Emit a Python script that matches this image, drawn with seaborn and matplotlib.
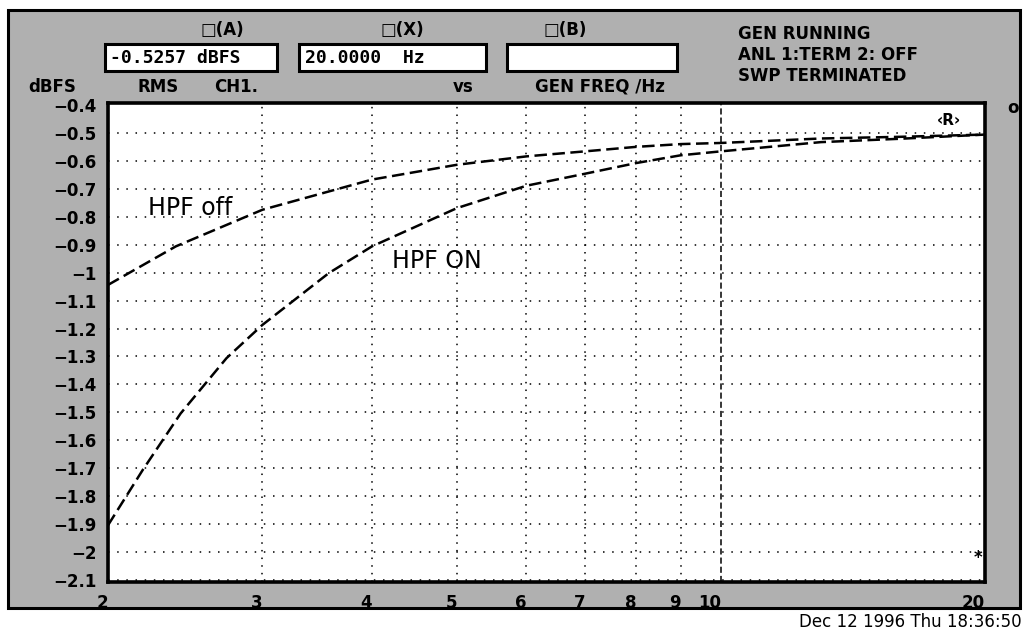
import pandas as pd
import matplotlib
matplotlib.use("Agg")
import matplotlib.pyplot as plt
from matplotlib.patches import Rectangle
import seaborn as sns

freq_off = [2, 2.39, 3, 4, 5, 6, 7, 8, 9, 10, 13, 16, 20]
level_off = [-1.044, -0.906, -0.775, -0.667, -0.614, -0.584, -0.566, -0.55, -0.54, -0.536, -0.52, -0.514, -0.506]

freq_on = [2, 2.19, 2.42, 2.73, 3, 3.57, 4, 5, 6, 7, 8, 9, 10, 13, 16, 20]
level_on = [-1.904, -1.707, -1.504, -1.306, -1.187, -1.002, -0.906, -0.769, -0.689, -0.646, -0.608, -0.58, -0.566, -0.533, -0.521, -0.506]

y_ticks = [-0.4, -0.5, -0.6, -0.7, -0.8, -0.9, -1, -1.1, -1.2, -1.3, -1.4, -1.5,
           -1.6, -1.7, -1.8, -1.9, -2, -2.1]
y_labels = ["\u22120.4", "\u22120.5", "\u22120.6", "\u22120.7", "\u22120.8", "\u22120.9", "\u22121",
            "\u22121.1", "\u22121.2", "\u22121.3", "\u22121.4", "\u22121.5", "\u22121.6", "\u22121.7",
            "\u22121.8", "\u22121.9", "\u22122", "\u22122.1"]
x_ticks = [2, 3, 4, 5, 6, 7, 8, 9, 10, 20]
x_labels = ["2", "3", "4", "5", "6", "7", "8", "9", "10", "20"]

df = pd.concat([
    pd.DataFrame({"freq": freq_off, "level": level_off, "setting": "HPF off"}),
    pd.DataFrame({"freq": freq_on, "level": level_on, "setting": "HPF ON"}),
])

sns.set_style("white")
plt.rcParams["font.family"] = ["DejaVu Sans"]
plt.rcParams["text.color"] = "black"
plt.rcParams["xtick.color"] = "black"
plt.rcParams["ytick.color"] = "black"

W, H = 1026, 635
fig = plt.figure(figsize=(W / 100, H / 100), dpi=100)
fig.patch.set_facecolor("white")


def fx(px):
    return px / W


def fy(py):
    return 1 - py / H


# halftone grey screen background
fig.add_artist(Rectangle((fx(8), fy(608)), fx(1012), (608 - 10) / H,
                         facecolor="#b0b0b0", edgecolor="black", lw=2.2, zorder=0))

ax = fig.add_axes([fx(108), fy(582), fx(985 - 108), (582 - 103) / H])
ax.set_facecolor("white")

sns.lineplot(data=df, x="freq", y="level", hue="setting", style="setting",
             palette={"HPF off": "black", "HPF ON": "black"},
             dashes={"HPF off": (5, 2.2), "HPF ON": (5, 2.2)},
             linewidth=1.8, legend=False, ax=ax, zorder=3)

ax.set_xscale("log")
ax.set_xlim(2, 20)
ax.set_ylim(-2.107, -0.393)
ax.set_xticks(x_ticks)
ax.set_xticklabels(x_labels, fontsize=12, fontweight="bold", ha="right")
ax.xaxis.set_minor_locator(matplotlib.ticker.NullLocator())
ax.set_yticks(y_ticks)
ax.set_yticklabels(y_labels, fontsize=12, fontweight="bold")
ax.tick_params(axis="y", length=0, pad=8)
ax.tick_params(axis="x", length=0, pad=9)
ax.set_xlabel("")
ax.set_ylabel("")
for s in ax.spines.values():
    s.set_linewidth(2.6)
    s.set_color("black")

for v in y_ticks[1:]:
    ax.axhline(v, color="black", lw=1.1, ls=(0, (1, 5)), zorder=1)
for v in x_ticks[1:-1]:
    ax.axvline(v, color="black", lw=1.1, ls=(0, (1, 4)) if v != 10 else (0, (4, 2)), zorder=1)

# handwritten notes
ax.text(2.22, -0.81, "HPF off", fontsize=17, ha="left", va="bottom")
ax.text(4.22, -1.0, "HPF ON", fontsize=17, ha="left", va="bottom")
ax.text(18.2, -0.455, "\u2039R\u203a", fontsize=11, fontweight="bold", ha="center", va="center")
ax.text(19.65, -2.02, "*", fontsize=12, fontweight="bold", ha="center", va="center")

# header readouts
hdr = dict(fontsize=12, fontweight="bold", va="center")
fig.text(fx(222), fy(30), "\u25a1(A)", ha="center", **hdr)
fig.text(fx(402), fy(30), "\u25a1(X)", ha="center", **hdr)
fig.text(fx(565), fy(30), "\u25a1(B)", ha="center", **hdr)

for x0, x1 in [(105, 277), (299, 486), (507, 677)]:
    fig.add_artist(Rectangle((fx(x0), fy(71)), fx(x1 - x0), 27 / H,
                             facecolor="white", edgecolor="black", lw=2.2, zorder=1))
fig.text(fx(110), fy(58), "-0.5257 dBFS", family="DejaVu Sans Mono",
         fontsize=13, fontweight="bold", va="center", ha="left")
fig.text(fx(305), fy(58), "20.0000  Hz", family="DejaVu Sans Mono",
         fontsize=13, fontweight="bold", va="center", ha="left")

fig.text(fx(28), fy(87), "dBFS", ha="left", **hdr)
fig.text(fx(158), fy(87), "RMS", ha="center", **hdr)
fig.text(fx(236), fy(87), "CH1.", ha="center", **hdr)
fig.text(fx(463), fy(87), "vs", ha="center", **hdr)
fig.text(fx(600), fy(87), "GEN FREQ /Hz", ha="center", **hdr)

fig.text(fx(738), fy(34), "GEN RUNNING", ha="left", **hdr)
fig.text(fx(738), fy(55), "ANL 1:TERM 2: OFF", ha="left", **hdr)
fig.text(fx(738), fy(76), "SWP TERMINATED", ha="left", **hdr)
fig.text(fx(1013), fy(108), "o", ha="center", **hdr)

fig.text(fx(1022), fy(622), "Dec 12 1996 Thu 18:36:50", ha="right", va="center",
         fontsize=12)

fig.savefig("out.png", dpi=100)
